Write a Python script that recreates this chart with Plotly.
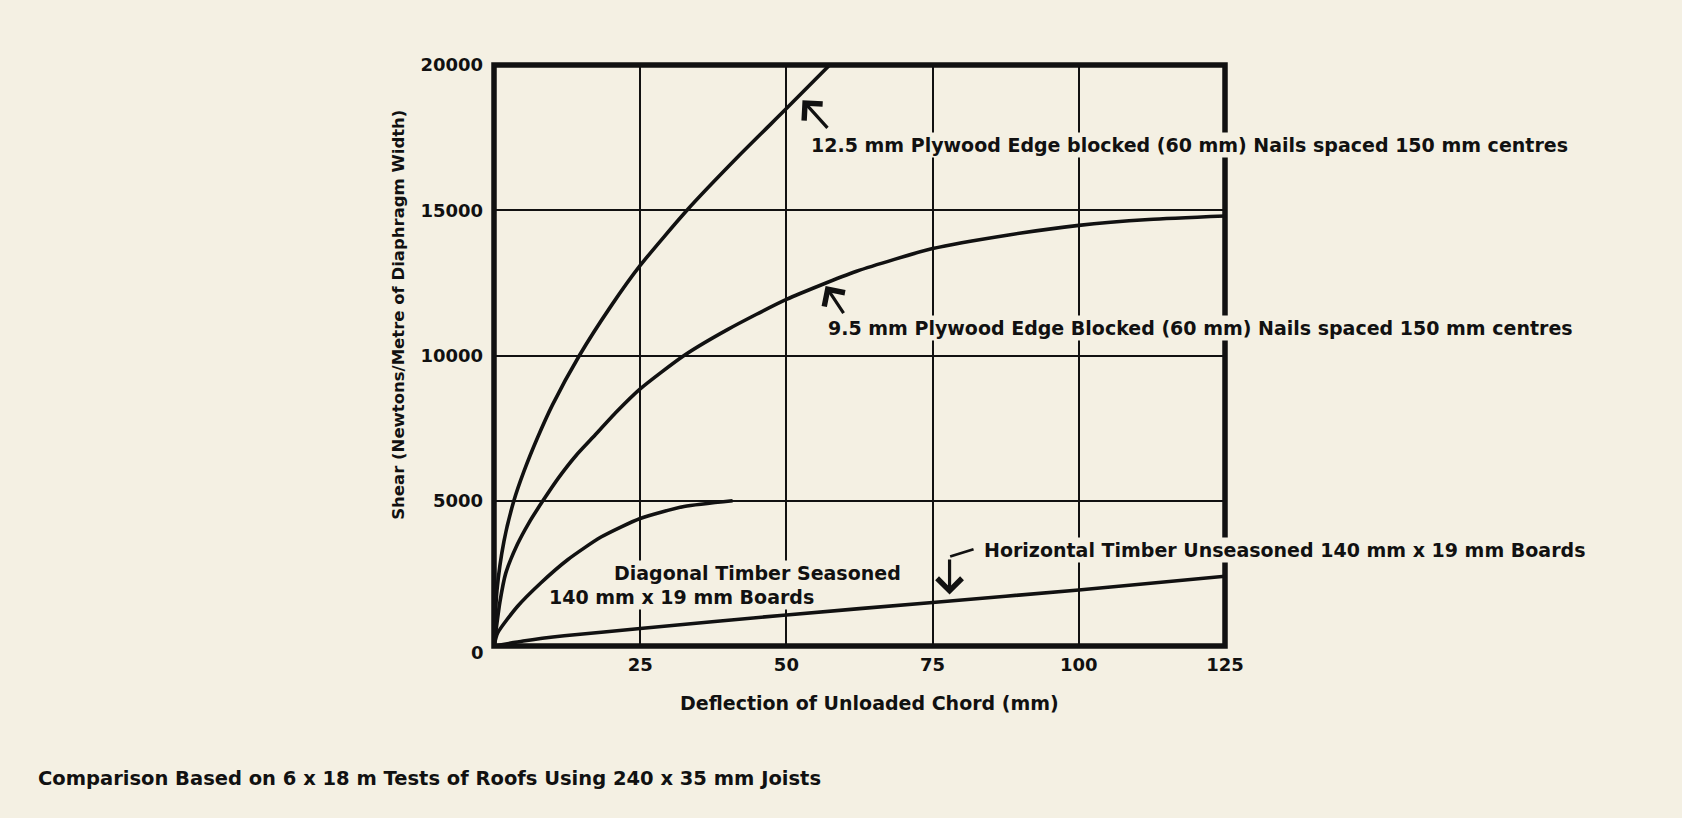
import plotly.graph_objects as go

# ---- data ----
ply125_x = [0, 0.5, 1.7, 3.4, 5.1, 7.4, 10, 14.6, 20, 25, 33, 42, 50, 57.4]
ply125_y = [0, 1900, 3600, 5000, 6000, 7150, 8300, 10000, 11700, 13100, 15000, 16900, 18500, 20000]

ply95_x = [0, 1, 2, 4, 6, 8.3, 11, 14, 17, 21, 25, 32.5, 40, 50, 62, 75, 88, 100, 112, 125]
ply95_y = [0, 1500, 2500, 3500, 4250, 4980, 5780, 6550, 7200, 8070, 8850, 10000, 10900,
           11930, 12900, 13680, 14150, 14480, 14680, 14800]

diag_x = [0, 0.6, 4.0, 8.0, 12.6, 18.3, 25, 32.5, 40.8]
diag_y = [0, 440, 1360, 2170, 2970, 3750, 4390, 4800, 5000]

horiz_x = [0, 5, 12, 25, 50, 75, 100, 125]
horiz_y = [0, 170, 350, 600, 1070, 1500, 1930, 2400]

x_ticks = [25, 50, 75, 100, 125]
y_ticks = [5000, 10000, 15000, 20000]
y_tick_text = ["5000", "10000", "15000", "20000"]

label_125 = "12.5 mm Plywood Edge blocked (60 mm) Nails spaced 150 mm centres"
label_95 = "9.5 mm Plywood Edge Blocked (60 mm) Nails spaced 150 mm centres"
label_diag1 = "Diagonal Timber Seasoned"
label_diag2 = "140 mm x 19 mm Boards"
label_horiz = "Horizontal Timber Unseasoned 140 mm x 19 mm Boards"
x_title = "Deflection of Unloaded Chord (mm)"
y_title = "Shear (Newtons/Metre of Diaphragm Width)"
footer = "Comparison Based on 6 x 18 m Tests of Roofs Using 240 x 35 mm Joists"

BG = "#F4F0E3"
INK = "#111111"
FONT = "DejaVu Sans"

fig = go.Figure()
for xs, ys in [(ply125_x, ply125_y), (ply95_x, ply95_y), (diag_x, diag_y), (horiz_x, horiz_y)]:
    fig.add_trace(go.Scatter(x=xs, y=ys, mode="lines",
                             line=dict(color=INK, width=3.6, shape="spline", smoothing=0.6),
                             showlegend=False, hoverinfo="skip"))

def txt(text, x, y, size=19, xanchor="left", xref="x", yref="y", angle=0, bg=BG):
    fig.add_annotation(text=text, x=x, y=y, xref=xref, yref=yref, showarrow=False,
                       xanchor=xanchor, yanchor="middle", textangle=angle,
                       font=dict(family=FONT, size=size, color=INK, weight="bold"),
                       bgcolor=bg, borderpad=1)

def arrow(x, y, ax, ay):
    fig.add_annotation(text=" ", x=x, y=y, ax=ax, ay=ay, showarrow=True,
                       arrowhead=4, arrowsize=1.5, arrowwidth=3.2, arrowcolor=INK,
                       standoff=0, startstandoff=0, font=dict(size=2))

# labels (with paper-coloured background that interrupts lines, as in the original)
txt(label_125, 53.8, 17250)
txt(label_95, 56.7, 10930)
txt(label_diag1, 20.2, 2500)
txt(label_diag2, 9.1, 1680)
txt(label_horiz, 83.5, 3300)

# arrows
arrow(52.75, 18790, 27, 30)
arrow(56.7, 12390, 20, 30)
arrow(14.3, 3120, 24, 25)
arrow(77.9, 1770, 0, -38)
fig.add_shape(type="line", x0=78.0, y0=3080, x1=82.0, y1=3330,
              line=dict(color=INK, width=2.8), layer="above")

# axis titles, origin label and footer
txt(x_title, 0.513, -0.098, xanchor="center", xref="paper", yref="paper", bg=None)
txt(y_title, -0.13, 0.57, size=16.5, xanchor="center", xref="paper", yref="paper", angle=-90, bg=None)
txt("0", -0.022, -0.012, size=18, xanchor="center", xref="paper", yref="paper", bg=None)
txt(footer, -0.627, -0.228, size=19.5, xref="paper", yref="paper", bg=None)

# heavy frame
fig.add_shape(type="rect", xref="paper", yref="paper", x0=0, y0=0, x1=1, y1=1,
              line=dict(color=INK, width=5.5), layer="above")

fig.update_xaxes(range=[0, 125], tickvals=x_ticks, showgrid=True, gridcolor=INK, gridwidth=1.6,
                 zeroline=False, showline=False, ticks="", ticklabelstandoff=6,
                 tickfont=dict(family=FONT, size=18, color=INK, weight="bold"))
fig.update_yaxes(range=[0, 20000], tickvals=y_ticks, ticktext=y_tick_text, showgrid=True,
                 gridcolor=INK, gridwidth=1.6, zeroline=False, showline=False, ticks="",
                 ticklabelstandoff=10,
                 tickfont=dict(family=FONT, size=18, color=INK, weight="bold"))

fig.update_layout(width=1682, height=818, autosize=False,
                  margin=dict(l=494, r=457, t=65, b=172),
                  paper_bgcolor=BG, plot_bgcolor=BG, showlegend=False)

fig.write_html("out.html", config={"displayModeBar": False},
               post_script="document.body.style.margin='0px';document.body.style.overflow='hidden';"
                           "document.body.style.background='" + BG + "';")
